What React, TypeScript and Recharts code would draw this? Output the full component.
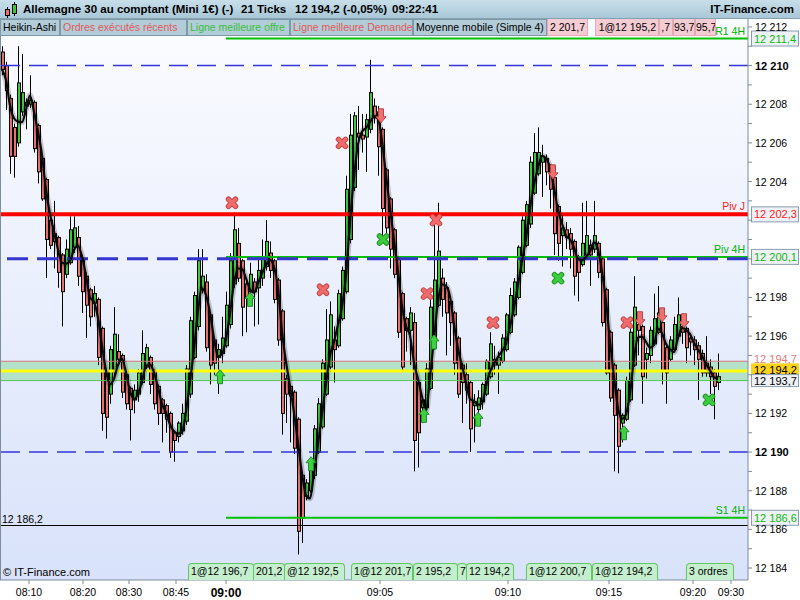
import React from 'react';
import {
  ComposedChart,
  Bar,
  Line,
  Scatter,
  XAxis,
  YAxis,
  ReferenceLine,
  ReferenceArea,
} from 'recharts';

// Heikin-Ashi candles, one every 21 ticks
const haOpen = [
  12210.7, 12210.0, 12208.3, 12206.8, 12206.0, 12207.6, 12208.1, 12208.0, 12208.1, 12206.9,
  12205.2, 12204.1, 12202.0, 12201.3, 12201.1, 12200.2, 12199.2, 12199.8, 12200.6, 12201.1,
  12200.0, 12199.1, 12198.4, 12197.7, 12197.9, 12196.4, 12194.2, 12193.0, 12194.2, 12195.2,
  12195.0, 12194.0, 12193.3, 12192.7, 12193.0, 12193.6, 12194.4, 12194.9, 12194.2, 12193.4,
  12192.7, 12192.4, 12192.0, 12191.0, 12190.8, 12191.1, 12191.6, 12193.0, 12194.9, 12196.5,
  12198.4, 12198.8, 12197.1, 12195.8, 12194.9, 12195.1, 12195.5, 12196.6, 12198.7, 12200.8,
  12199.9, 12198.7, 12198.3, 12198.8, 12198.5, 12199.0, 12199.6, 12200.3, 12199.9, 12198.9,
  12197.3, 12193.8, 12193.4, 12193.1, 12191.7, 12188.8, 12187.7, 12188.0, 12188.8, 12190.0,
  12191.3, 12193.0, 12194.4, 12195.8, 12195.5, 12196.9, 12198.3, 12201.0, 12203.7, 12206.5,
  12206.4, 12206.3, 12206.7, 12207.9, 12207.6, 12206.7, 12204.6, 12203.1, 12201.5, 12200.0,
  12198.2, 12196.9, 12196.3, 12196.7, 12193.6, 12192.3, 12192.3, 12193.3, 12195.4, 12197.6,
  12199.0, 12198.5, 12197.8, 12197.2, 12195.9, 12194.5, 12194.0, 12193.6, 12192.4, 12192.2,
  12192.6, 12193.0, 12193.9, 12194.8, 12194.5, 12194.7, 12195.3, 12196.2, 12197.1, 12198.0,
  12199.3, 12200.7, 12201.8, 12203.4, 12204.4, 12205.0, 12205.2, 12204.8, 12204.2, 12202.7,
  12201.2, 12201.5, 12201.3, 12200.9, 12200.0, 12199.7, 12200.2, 12200.7, 12200.5, 12200.8,
  12200.0, 12198.4, 12196.2, 12194.5, 12193.2, 12191.5, 12191.7, 12192.7, 12194.5, 12196.6,
  12196.5, 12194.8, 12195.0, 12195.6, 12196.2, 12196.7, 12195.4, 12194.8, 12195.3, 12196.0,
  12196.5, 12196.4, 12195.9, 12195.8, 12195.5, 12195.1, 12194.6, 12194.4, 12194.1, 12193.6,
];
const haClose = [
  12209.8, 12208.7, 12205.3, 12205.3, 12209.1, 12208.6, 12207.9, 12208.2, 12205.7, 12204.5,
  12203.1, 12201.0, 12200.7, 12200.9, 12199.3, 12198.3, 12200.5, 12201.5, 12201.6, 12199.1,
  12198.3, 12197.6, 12197.0, 12198.2, 12194.9, 12192.0, 12191.8, 12195.3, 12196.1, 12194.8,
  12193.1, 12192.5, 12192.2, 12193.2, 12194.1, 12195.1, 12195.4, 12193.5, 12192.5, 12192.0,
  12192.0, 12191.7, 12190.0, 12190.6, 12191.5, 12192.0, 12194.3, 12196.8, 12198.1, 12199.9,
  12199.1, 12195.4, 12194.5, 12194.6, 12195.3, 12195.9, 12197.6, 12199.9, 12201.5, 12199.0,
  12197.5, 12198.0, 12199.2, 12198.3, 12199.4, 12200.1, 12200.9, 12199.4, 12197.9, 12195.8,
  12192.0, 12193.0, 12192.9, 12190.2, 12185.9, 12186.6, 12188.4, 12189.5, 12191.2, 12192.5,
  12194.6, 12195.8, 12197.1, 12195.3, 12198.2, 12199.4, 12203.6, 12206.4, 12207.4, 12206.3,
  12206.2, 12207.2, 12208.6, 12207.4, 12205.8, 12202.6, 12201.6, 12200.5, 12199.2, 12196.2,
  12194.4, 12196.3, 12197.2, 12190.6, 12191.0, 12192.7, 12194.3, 12197.5, 12198.9, 12200.4,
  12197.9, 12197.2, 12196.7, 12194.6, 12193.0, 12193.6, 12193.2, 12191.2, 12192.6, 12192.8,
  12193.5, 12194.7, 12195.6, 12194.5, 12194.9, 12195.9, 12197.1, 12198.1, 12198.8, 12200.6,
  12202.0, 12202.8, 12205.0, 12205.5, 12205.5, 12205.3, 12204.5, 12203.6, 12201.3, 12200.8,
  12201.6, 12201.1, 12200.5, 12199.1, 12199.3, 12200.8, 12201.2, 12200.2, 12201.2, 12199.3,
  12196.7, 12194.1, 12192.8, 12191.9, 12190.3, 12191.9, 12193.7, 12196.2, 12197.5, 12196.3,
  12193.9, 12195.1, 12196.3, 12196.9, 12197.2, 12194.2, 12194.1, 12195.8, 12196.6, 12197.1,
  12196.2, 12195.4, 12195.7, 12195.3, 12194.8, 12194.1, 12194.1, 12193.9, 12193.4, 12193.9,
];
const haHigh = [
  12211.0, 12210.2, 12208.5, 12207.0, 12211.0, 12210.6, 12208.3, 12209.5, 12208.2, 12207.0,
  12205.3, 12204.2, 12202.1, 12203.0, 12201.2, 12200.3, 12201.0, 12202.2, 12202.2, 12201.7,
  12200.2, 12199.3, 12198.5, 12198.6, 12198.0, 12196.5, 12194.3, 12195.5, 12197.5, 12196.1,
  12195.1, 12194.1, 12193.4, 12193.5, 12194.3, 12196.3, 12195.6, 12195.0, 12194.3, 12193.5,
  12192.8, 12192.5, 12192.1, 12191.1, 12191.6, 12192.5, 12194.5, 12197.0, 12198.3, 12200.5,
  12200.5, 12199.2, 12197.2, 12195.9, 12195.6, 12197.0, 12198.3, 12200.3, 12202.4, 12201.6,
  12200.0, 12198.9, 12199.8, 12199.0, 12200.0, 12201.0, 12202.0, 12200.9, 12200.0, 12199.0,
  12197.4, 12194.0, 12193.5, 12193.2, 12191.8, 12188.9, 12188.6, 12189.6, 12191.4, 12192.8,
  12194.8, 12197.4, 12197.8, 12196.5, 12198.4, 12199.6, 12204.3, 12207.5, 12207.6, 12207.9,
  12207.5, 12207.5, 12210.3, 12208.3, 12207.9, 12206.8, 12204.7, 12203.2, 12201.6, 12200.1,
  12198.3, 12197.0, 12197.5, 12197.2, 12193.7, 12192.8, 12194.6, 12198.1, 12202.0, 12202.9,
  12199.5, 12198.8, 12198.0, 12197.3, 12196.0, 12194.6, 12194.6, 12193.7, 12193.0, 12193.2,
  12193.6, 12194.8, 12196.2, 12195.5, 12195.2, 12196.1, 12197.2, 12198.5, 12199.0, 12200.7,
  12202.2, 12203.0, 12205.3, 12206.5, 12206.8, 12205.9, 12205.4, 12204.9, 12204.3, 12202.8,
  12202.3, 12201.9, 12201.6, 12201.0, 12200.2, 12202.9, 12203.0, 12201.0, 12203.0, 12200.9,
  12200.1, 12198.5, 12196.3, 12194.6, 12193.3, 12192.0, 12193.9, 12196.4, 12199.1, 12197.0,
  12196.6, 12195.4, 12196.5, 12198.2, 12198.6, 12196.8, 12195.5, 12196.0, 12197.0, 12198.0,
  12196.7, 12196.5, 12196.0, 12196.0, 12195.7, 12195.3, 12196.0, 12194.8, 12194.3, 12195.1,
];
const haLow = [
  12209.5, 12207.7, 12204.4, 12204.2, 12205.8, 12207.4, 12206.7, 12207.8, 12205.5, 12203.9,
  12203.0, 12199.0, 12200.5, 12199.5, 12198.5, 12196.5, 12199.0, 12199.7, 12200.3, 12198.6,
  12197.2, 12195.9, 12196.5, 12197.0, 12194.5, 12191.1, 12190.7, 12192.5, 12194.0, 12194.5,
  12192.8, 12192.2, 12190.6, 12192.0, 12192.6, 12193.5, 12194.3, 12193.0, 12192.2, 12191.4,
  12190.5, 12191.0, 12189.7, 12189.5, 12190.5, 12190.9, 12191.4, 12192.8, 12194.8, 12196.3,
  12198.2, 12195.2, 12193.5, 12194.0, 12193.0, 12194.6, 12195.4, 12196.4, 12198.5, 12198.8,
  12196.0, 12196.2, 12197.7, 12196.5, 12196.6, 12198.6, 12199.4, 12199.0, 12197.7, 12195.5,
  12190.9, 12191.5, 12190.5, 12189.9, 12184.7, 12185.3, 12187.5, 12187.9, 12188.6, 12189.9,
  12191.2, 12192.9, 12194.3, 12193.6, 12195.4, 12196.8, 12198.2, 12200.8, 12203.5, 12204.6,
  12205.5, 12204.5, 12206.5, 12207.0, 12204.3, 12201.0, 12200.8, 12199.5, 12199.0, 12195.9,
  12194.2, 12195.2, 12194.5, 12189.0, 12189.2, 12191.5, 12192.2, 12193.2, 12195.3, 12197.5,
  12197.0, 12195.0, 12195.5, 12194.0, 12192.8, 12191.5, 12192.5, 12190.0, 12190.5, 12191.5,
  12192.2, 12192.9, 12193.8, 12194.0, 12193.0, 12194.6, 12195.2, 12196.1, 12197.0, 12197.9,
  12199.2, 12200.6, 12201.6, 12203.3, 12204.3, 12203.2, 12203.8, 12202.6, 12200.2, 12199.9,
  12199.6, 12200.5, 12199.5, 12198.1, 12197.8, 12199.6, 12200.1, 12198.6, 12200.3, 12199.0,
  12196.5, 12194.0, 12192.6, 12189.0, 12188.9, 12190.5, 12191.6, 12192.6, 12194.4, 12195.0,
  12192.5, 12193.8, 12194.6, 12195.5, 12196.1, 12193.5, 12192.5, 12194.7, 12195.2, 12195.9,
  12195.6, 12194.6, 12195.0, 12194.5, 12192.7, 12193.9, 12193.9, 12193.0, 12191.7, 12193.2,
];

// time axis (tick chart: labels sit at candle positions)
const timeTicks = [6.75, 20.25, 31.75, 43.5, 56, 94.5, 126.5, 151.75, 172.75, 182.25];
const timeLabels = ['08:10', '08:20', '08:30', '08:45', '09:00', '09:05', '09:10', '09:15', '09:20', '09:30'];

const priceTicks = [
  12184, 12185, 12186, 12187, 12188, 12189, 12190, 12191, 12192, 12193,
  12194, 12195, 12196, 12197, 12198, 12199, 12200, 12201, 12202, 12203,
  12204, 12205, 12206, 12207, 12208, 12209, 12210, 12211, 12212,
];
const hiddenPriceLabels = [12194, 12200, 12202];

// levels
const r1Level = 12211.4;
const pivDay = 12202.3;
const piv4h = 12200.1;
const s1Level = 12186.6;
const prevClose = 12186.2;
const askPrice = 12194.7;
const lastPrice = 12194.2;
const bidPrice = 12193.7;
const dashedLevels = [12210, 12190];
const level4hStart = 56;

// executed orders
const redCrossPts = [
  { i: 57.5, p: 12202.9 }, { i: 80.25, p: 12198.4 }, { i: 85, p: 12206.0 },
  { i: 106.25, p: 12198.2 }, { i: 108.5, p: 12202.0 }, { i: 122.75, p: 12196.7 },
  { i: 156.25, p: 12196.7 },
];
const greenCrossPts = [
  { i: 95.25, p: 12201.0 }, { i: 139, p: 12199.0 }, { i: 176.75, p: 12192.7 },
];
const buyArrowPts = [
  { i: 54.5, p: 12193.9 }, { i: 62, p: 12197.9 }, { i: 77.25, p: 12189.4 },
  { i: 105.5, p: 12191.9 }, { i: 108, p: 12195.7 }, { i: 119, p: 12191.7 },
  { i: 155.5, p: 12191.0 },
];
const sellArrowPts = [
  { i: 94.75, p: 12207.4 }, { i: 137.75, p: 12204.5 }, { i: 159.5, p: 12196.9 },
  { i: 165, p: 12197.1 }, { i: 170.5, p: 12196.8 },
];

const buyOrderTexts = ['1@12 196,7', '201,2', '@12 192,5', '1@12 201,7', '2 195,2', '7', '12 194,2', '1@12 200,7', '1@12 194,2', '3 ordres'];
const sellOrderTexts = ['2 201,7', '1@12 195,2', ',7', '93,7', '95,7'];
const tabTexts = ['Heikin-Ashi', 'Ordres exécutés récents', 'Ligne meilleure offre', 'Ligne meilleure Demande', 'Moyenne mobile (Simple 4)'];

// layout of the overlay tags (pixels)
const buyOrderBoxes = [
  [188, 66], [253, 32], [284, 61], [351, 62], [413, 45], [457, 10], [466, 48], [526, 66], [592, 66], [686, 48],
];
const sellOrderBoxes = [[547, 41], [595, 64], [659, 14], [673, 22], [695, 21]];
const tabBoxes = [[0, 60], [60, 127], [187, 103], [290, 123], [413, 134]];
const tabColors = ['#000', '#e05a5a', '#38bf38', '#e05a5a', '#000'];

const FONT = '"Liberation Sans", Arial, sans-serif';

const rows = haOpen.map((o, i) => {
  const win = haClose.slice(Math.max(0, i - 3), i + 1);
  return {
    i,
    o,
    c: haClose[i],
    h: haHigh[i],
    l: haLow[i],
    ma: win.reduce((a, b) => a + b, 0) / win.length,
  };
});

const fmtPrice = (v: number, dec: number) => {
  const [a, b] = v.toFixed(dec).split('.');
  const int = a.slice(0, a.length - 3) + ' ' + a.slice(-3);
  return b ? int + ',' + b : int;
};

function Candle(props: any) {
  const { x, y, width, height, payload } = props;
  if (!payload || x == null || y == null) return null;
  const { o, c, h, l } = payload;
  const top = height >= 0 ? y : y + height;
  const span = Math.abs(height);
  const k = span / (h - l);
  const px = Math.round(x + width / 2);
  const bTop = top + (h - Math.max(o, c)) * k;
  const bBot = top + (h - Math.min(o, c)) * k;
  const up = c >= o;
  return (
    <g>
      <line x1={px + 0.5} x2={px + 0.5} y1={top} y2={top + span} stroke="#000" strokeWidth={1} />
      <rect
        x={px - 0.5}
        y={bTop}
        width={3}
        height={Math.max(bBot - bTop, 1)}
        fill={up ? '#3cc83c' : '#e8716c'}
        stroke="#000"
        strokeWidth={1}
      />
    </g>
  );
}

function Cross(props: any) {
  const { cx, cy, fill, edge } = props;
  if (cx == null) return null;
  const d = 3.5;
  const path = `M${cx - d},${cy - d}L${cx + d},${cy + d}M${cx + d},${cy - d}L${cx - d},${cy + d}`;
  return (
    <g>
      <path d={path} stroke={edge} strokeWidth={5.5} strokeLinecap="round" fill="none" />
      <path d={path} stroke={fill} strokeWidth={3.5} strokeLinecap="round" fill="none" />
    </g>
  );
}

function Arrow(props: any) {
  const { cx, cy, fill, edge, dir } = props;
  if (cx == null) return null;
  const s = dir; // -1 up, 1 down
  const pts = [
    [cx, cy + 7 * s],
    [cx + 5, cy + 1 * s],
    [cx + 2.5, cy + 1 * s],
    [cx + 2.5, cy - 7 * s],
    [cx - 2.5, cy - 7 * s],
    [cx - 2.5, cy + 1 * s],
    [cx - 5, cy + 1 * s],
  ]
    .map((p) => p.join(','))
    .join(' ');
  return <polygon points={pts} fill={fill} stroke={edge} strokeWidth={1} />;
}

function LevelTag(props: any) {
  const {
    viewBox, name, nameColor, price, textColor, boxFill, boxStroke, leftText,
    boxTop = -7.5, boxH = 15, textDy = 4, noBox = false,
  } = props;
  if (!viewBox) return null;
  const right = viewBox.x + (viewBox.width || 0);
  const y = viewBox.y;
  return (
    <g fontFamily={FONT}>
      {name && (
        <text x={right - 3} y={y - 4} textAnchor="end" fontSize={10.5} fill={nameColor}>
          {name}
        </text>
      )}
      {leftText && (
        <text x={viewBox.x + 2} y={y - 3} fontSize={10.5} fill="#000">
          {leftText}
        </text>
      )}
      {price && (
        <g>
          {!noBox && <rect x={right + 3.5} y={y + boxTop} width={47} height={boxH} fill={boxFill} stroke={boxStroke} />}
          <text x={right + 6} y={y + textDy} fontSize={11} fill={textColor}>
            {price}
          </text>
        </g>
      )}
    </g>
  );
}

function PriceTick(props: any) {
  const { x, y, payload } = props;
  const v = payload.value;
  if (v % 2 !== 0 || hiddenPriceLabels.includes(v)) return null;
  const bold = v % 10 === 0;
  return (
    <text x={x} y={y} dy={4} textAnchor="start" fontSize={bold ? 11 : 10.5} fontWeight={bold ? 700 : 400} fill="#000" fontFamily={FONT}>
      {fmtPrice(v, 0)}
    </text>
  );
}

function TimeTick(props: any) {
  const { x, y, payload } = props;
  const idx = timeTicks.indexOf(payload.value);
  const label = timeLabels[idx];
  const bold = label === '09:00';
  return (
    <text x={x} y={y} dy={bold ? 11 : 10} textAnchor="middle" fontSize={bold ? 12 : 10.5} fontWeight={bold ? 700 : 400} fill="#000" fontFamily={FONT}>
      {label}
    </text>
  );
}

export default function App() {
  return (
    <div
      style={{
        position: 'absolute',
        left: 0,
        top: 0,
        width: 800,
        height: 600,
        background: '#fff',
        overflow: 'hidden',
        fontFamily: FONT,
      }}
    >
      <div
        style={{
          position: 'absolute',
          left: 0,
          top: 19,
          width: 748,
          height: 561,
          background: 'linear-gradient(#fbfcff, #d8e2fa)',
        }}
      />
      <div style={{ position: 'absolute', left: 0, top: 0 }}>
        <ComposedChart width={800} height={600} data={rows} margin={{ top: 19, right: 0, bottom: 0, left: 0 }}>
          <XAxis
            dataKey="i"
            type="number"
            domain={[-0.5, 186.5]}
            allowDataOverflow
            ticks={timeTicks}
            interval={0}
            height={20}
            tickSize={4}
            tickMargin={2}
            tick={<TimeTick />}
            stroke="#7d8d9c"
          />
          <YAxis
            orientation="right"
            type="number"
            domain={[12183.38, 12212.41]}
            allowDataOverflow
            ticks={priceTicks}
            interval={0}
            width={52}
            tickSize={4}
            tickMargin={3}
            tick={<PriceTick />}
            stroke="#7d8d9c"
          />
          <ReferenceArea y1={bidPrice} y2={askPrice} fill="#a6debb" fillOpacity={0.8} stroke="none" />
          <Bar
            dataKey={(d: any) => [d.l, d.h]}
            barSize={3}
            shape={<Candle />}
            isAnimationActive={false}
          />
          {dashedLevels.map((v) => (
            <ReferenceLine key={v} y={v} stroke="#3434dc" strokeWidth={1.5} strokeDasharray="19 9" />
          ))}
          <ReferenceLine
            y={prevClose}
            stroke="#000"
            strokeWidth={1}
            label={<LevelTag leftText={fmtPrice(prevClose, 1)} />}
          />
          <ReferenceLine
            y={pivDay}
            stroke="#ff0000"
            strokeWidth={4}
            label={
              <LevelTag name="Piv J" nameColor="#ff1a1a" price={fmtPrice(pivDay, 1)} textColor="#ff2020" boxFill="#eef2f7" boxStroke="#8b9db0" />
            }
          />
          <ReferenceLine
            segment={[{ x: level4hStart, y: r1Level }, { x: 186.5, y: r1Level }]}
            stroke="#00c000"
            strokeWidth={2}
            label={
              <LevelTag name="R1 4H" nameColor="#00b000" price={fmtPrice(r1Level, 1)} textColor="#10b810" boxFill="#eef2f7" boxStroke="#8b9db0" />
            }
          />
          <ReferenceLine
            segment={[{ x: level4hStart, y: piv4h }, { x: 186.5, y: piv4h }]}
            stroke="#00c000"
            strokeWidth={2}
            label={
              <LevelTag name="Piv 4H" nameColor="#00b000" price={fmtPrice(piv4h, 1)} textColor="#10b810" boxFill="#eef2f7" boxStroke="#8b9db0" />
            }
          />
          <ReferenceLine y={12200} stroke="#3434d0" strokeWidth={3} strokeDasharray="21 9" />
          <ReferenceLine
            segment={[{ x: level4hStart, y: s1Level }, { x: 186.5, y: s1Level }]}
            stroke="#00c000"
            strokeWidth={2}
            label={
              <LevelTag name="S1 4H" nameColor="#00b000" price={fmtPrice(s1Level, 1)} textColor="#10b810" boxFill="#eef2f7" boxStroke="#8b9db0" />
            }
          />
          <ReferenceLine
            y={askPrice}
            stroke="#d67878"
            strokeWidth={1}
            label={<LevelTag price={fmtPrice(askPrice, 1)} textColor="#e07a7a" noBox textDy={2} />}
          />
          <ReferenceLine
            y={lastPrice}
            stroke="#ffff00"
            strokeWidth={3}
            label={<LevelTag price={fmtPrice(lastPrice, 1)} textColor="#000" boxFill="#ffd21c" boxStroke="#ffd21c" boxTop={-7} boxH={11} textDy={3} />}
          />
          <ReferenceLine
            y={bidPrice}
            stroke="#58c458"
            strokeWidth={1}
            label={<LevelTag price={fmtPrice(bidPrice, 1)} textColor="#000" boxFill="#eef2f7" boxStroke="#8b9db0" boxTop={-6} boxH={12} textDy={4} />}
          />
          <Line dataKey="ma" type="monotone" stroke="rgba(0,0,0,0.2)" strokeWidth={6} dot={false} isAnimationActive={false} />
          <Line dataKey="ma" type="monotone" stroke="#0a0a0a" strokeWidth={2.2} dot={false} isAnimationActive={false} />
          <Scatter data={redCrossPts} dataKey="p" isAnimationActive={false} shape={(p: any) => <Cross {...p} fill="#f06c6c" edge="#c94848" />} />
          <Scatter data={greenCrossPts} dataKey="p" isAnimationActive={false} shape={(p: any) => <Cross {...p} fill="#3ccc3c" edge="#23942a" />} />
          <Scatter data={buyArrowPts} dataKey="p" isAnimationActive={false} shape={(p: any) => <Arrow {...p} dir={-1} fill="#3fd03f" edge="#1e8e28" />} />
          <Scatter data={sellArrowPts} dataKey="p" isAnimationActive={false} shape={(p: any) => <Arrow {...p} dir={1} fill="#f07070" edge="#c04444" />} />
        </ComposedChart>
      </div>

      {/* left frame */}
      <div style={{ position: 'absolute', left: 0, top: 19, width: 1, height: 561, background: '#7d8d9c' }} />

      {/* title bar */}
      <div
        style={{
          position: 'absolute',
          left: 0,
          top: 0,
          width: 800,
          height: 19,
          background: 'linear-gradient(#c8dfea, #a9c7d7)',
          borderBottom: '1px solid #86a2b2',
          boxSizing: 'border-box',
          fontSize: 11.5,
          fontWeight: 700,
          color: '#000',
        }}
      >
        <svg width={18} height={18} style={{ position: 'absolute', left: 2, top: 1 }}>
          <line x1={5.5} x2={5.5} y1={6} y2={17} stroke="#000" />
          <rect x={3.5} y={8.5} width={4} height={6} fill="#e8716c" stroke="#000" />
          <line x1={12.5} x2={12.5} y1={1} y2={15} stroke="#000" />
          <rect x={10.5} y={3.5} width={4} height={9} fill="#3cc83c" stroke="#000" />
        </svg>
        <span style={{ position: 'absolute', left: 23, top: 3 }}>Allemagne 30 au comptant (Mini 1€) (-)</span>
        <span style={{ position: 'absolute', left: 241, top: 3 }}>21 Ticks</span>
        <span style={{ position: 'absolute', left: 295, top: 3 }}>12 194,2 (-0,05%)</span>
        <span style={{ position: 'absolute', left: 392, top: 3 }}>09:22:41</span>
        <span style={{ position: 'absolute', right: 6, top: 3 }}>IT-Finance.com</span>
      </div>

      {/* recent sell orders strip */}
      {sellOrderTexts.map((t, k) => (
        <div
          key={t + k}
          style={{
            position: 'absolute',
            left: sellOrderBoxes[k][0],
            top: 19,
            width: sellOrderBoxes[k][1],
            height: 17,
            boxSizing: 'border-box',
            background: '#f5ccd3',
            border: '1px solid #e4a9b1',
            borderTop: 'none',
            fontSize: 10.5,
            lineHeight: '16px',
            textAlign: 'right',
            paddingRight: 2,
            overflow: 'hidden',
            whiteSpace: 'nowrap',
            color: '#000',
          }}
        >
          {t}
        </div>
      ))}

      {/* indicator tabs */}
      {tabTexts.map((t, k) => (
        <div
          key={t}
          style={{
            position: 'absolute',
            left: tabBoxes[k][0],
            top: 19,
            width: tabBoxes[k][1],
            height: 17,
            boxSizing: 'border-box',
            background: '#b2ccd8',
            border: '1px solid #7d98a8',
            fontSize: 10.5,
            lineHeight: '15px',
            paddingLeft: 2,
            overflow: 'hidden',
            whiteSpace: 'nowrap',
            color: tabColors[k],
          }}
        >
          {t}
        </div>
      ))}

      {/* recent buy orders strip */}
      {buyOrderTexts.map((t, k) => (
        <div
          key={t + k}
          style={{
            position: 'absolute',
            left: buyOrderBoxes[k][0],
            top: 563,
            width: buyOrderBoxes[k][1],
            height: 17,
            boxSizing: 'border-box',
            background: '#c4eecd',
            border: '1px solid #62c862',
            borderBottom: 'none',
            borderRadius: '4px 4px 0 0',
            fontSize: 10.5,
            lineHeight: '15px',
            paddingLeft: 2,
            overflow: 'hidden',
            whiteSpace: 'nowrap',
            color: '#000',
          }}
        >
          {t}
        </div>
      ))}

      <div style={{ position: 'absolute', left: 3, top: 566, fontSize: 11, color: '#000' }}>© IT-Finance.com</div>
    </div>
  );
}
